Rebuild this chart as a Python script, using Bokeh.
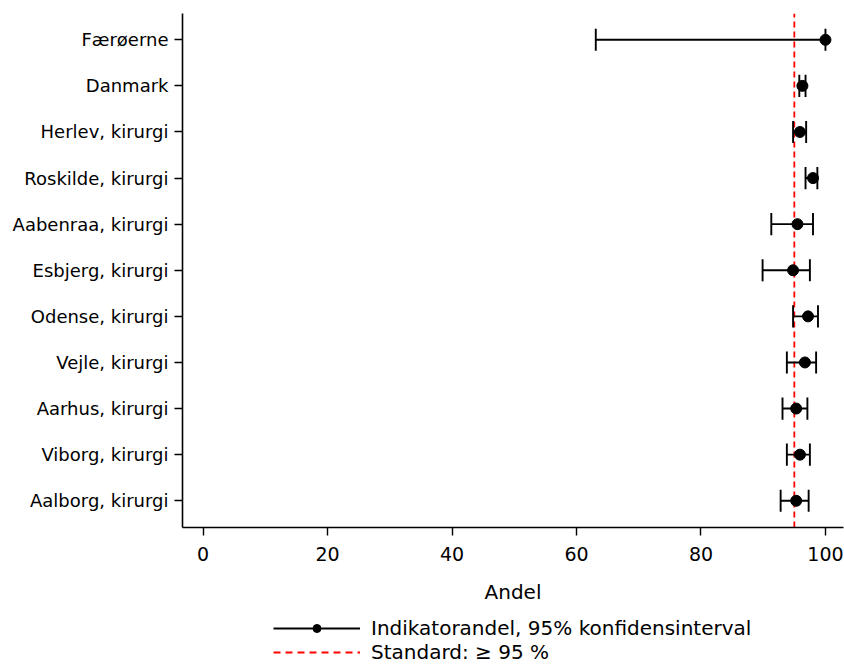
from bokeh.plotting import figure
from bokeh.models import Range1d, FixedTicker, Legend, LegendItem
from bokeh.layouts import column
from bokeh.embed import file_html
from bokeh.resources import INLINE

# Units, listed bottom to top
units = ["Aalborg, kirurgi", "Viborg, kirurgi", "Aarhus, kirurgi", "Vejle, kirurgi",
         "Odense, kirurgi", "Esbjerg, kirurgi", "Aabenraa, kirurgi", "Roskilde, kirurgi",
         "Herlev, kirurgi", "Danmark", "Færøerne"]
andel = [95.3, 95.9, 95.3, 96.7, 97.2, 94.8, 95.5, 98.0, 95.9, 96.3, 100.0]
ci_lower = [92.8, 93.8, 93.1, 93.8, 94.8, 89.9, 91.3, 96.8, 94.8, 95.8, 63.1]
ci_upper = [97.3, 97.5, 97.1, 98.5, 98.8, 97.5, 98.0, 98.7, 96.9, 96.8, 100.0]
standard = 95
x_ticks = [0, 20, 40, 60, 80, 100]

FONT = "DejaVu Sans"
LW = 1.9
ypos = list(range(len(units)))
cap = 0.24
y0, y1 = -0.58, 10.57

p = figure(width=844, height=612, output_backend="svg", toolbar_location=None,
           x_range=Range1d(-3.3, 102.9), y_range=Range1d(y0, y1),
           min_border_left=182, min_border_right=1, min_border_top=13,
           min_border_bottom=85)
p.outline_line_color = None
p.xgrid.visible = False
p.ygrid.visible = False

# standard threshold (behind the estimates)
p.line(x=[standard, standard], y=[y0, y1], line_color="red", line_width=1.8, line_dash="6 4")

# confidence intervals with end caps
p.segment(x0=ci_lower, x1=ci_upper, y0=ypos, y1=ypos, line_color="black", line_width=LW)
p.segment(x0=ci_lower, x1=ci_lower, y0=[y - cap for y in ypos], y1=[y + cap for y in ypos],
          line_color="black", line_width=LW)
p.segment(x0=ci_upper, x1=ci_upper, y0=[y - cap for y in ypos], y1=[y + cap for y in ypos],
          line_color="black", line_width=LW)
p.scatter(x=andel, y=ypos, size=11, color="black")

# axes
p.xaxis.ticker = FixedTicker(ticks=x_ticks)
p.yaxis.ticker = FixedTicker(ticks=ypos)
p.yaxis.major_label_overrides = {i: u for i, u in enumerate(units)}
p.xaxis.axis_label = "Andel"
for ax in (p.xaxis, p.yaxis):
    ax.axis_line_width = 1.6
    ax.axis_line_color = "black"
    ax.major_tick_line_color = "black"
    ax.major_tick_line_width = 1.4
    ax.major_tick_in = 0
    ax.major_tick_out = 8
    ax.minor_tick_line_color = None
    ax.major_label_text_font = FONT
    ax.major_label_text_color = "black"
    ax.axis_label_text_font = FONT
    ax.axis_label_text_font_style = "normal"
    ax.axis_label_text_color = "black"
p.xaxis.major_label_text_font_size = "19px"
p.yaxis.major_label_text_font_size = "18px"
p.xaxis.axis_label_text_font_size = "20px"
p.xaxis.major_label_standoff = 11
p.yaxis.major_label_standoff = 6
p.xaxis.axis_label_standoff = 16

# legend strip underneath the chart; its key glyphs hold the first estimate,
# which lies outside this strip's view, so only the legend is visible
lg = figure(width=844, height=52, output_backend="svg", toolbar_location=None,
            x_range=Range1d(1000, 1001), y_range=Range1d(1000, 1001),
            min_border=0, x_axis_type=None, y_axis_type=None)
lg.outline_line_color = None
lg.xgrid.visible = False
lg.ygrid.visible = False
k_bar = lg.segment(x0=ci_lower[:1], x1=ci_upper[:1], y0=ypos[:1], y1=ypos[:1],
                   line_color="black", line_width=LW)
k_pt = lg.scatter(x=andel[:1], y=ypos[:1], size=10, color="black")
k_std = lg.line(x=[standard, standard], y=[y0, y1], line_color="red",
                line_width=1.8, line_dash="7 5")

legend = Legend(items=[
    LegendItem(label="Indikatorandel, 95% konfidensinterval", renderers=[k_bar, k_pt]),
    LegendItem(label="Standard: ≥ 95 %", renderers=[k_std]),
], location=(91, 0))
legend.label_text_font = FONT
legend.label_text_font_size = "20px"
legend.label_text_color = "black"
legend.glyph_width = 87
legend.glyph_height = 20
legend.label_height = 20
legend.label_standoff = 11
legend.spacing = -2
legend.padding = 0
legend.margin = 0
legend.border_line_color = None
legend.background_fill_alpha = 0
lg.add_layout(legend, "center")

page = column(p, lg, spacing=0)
open("out.html", "w").write(file_html(page, INLINE))
